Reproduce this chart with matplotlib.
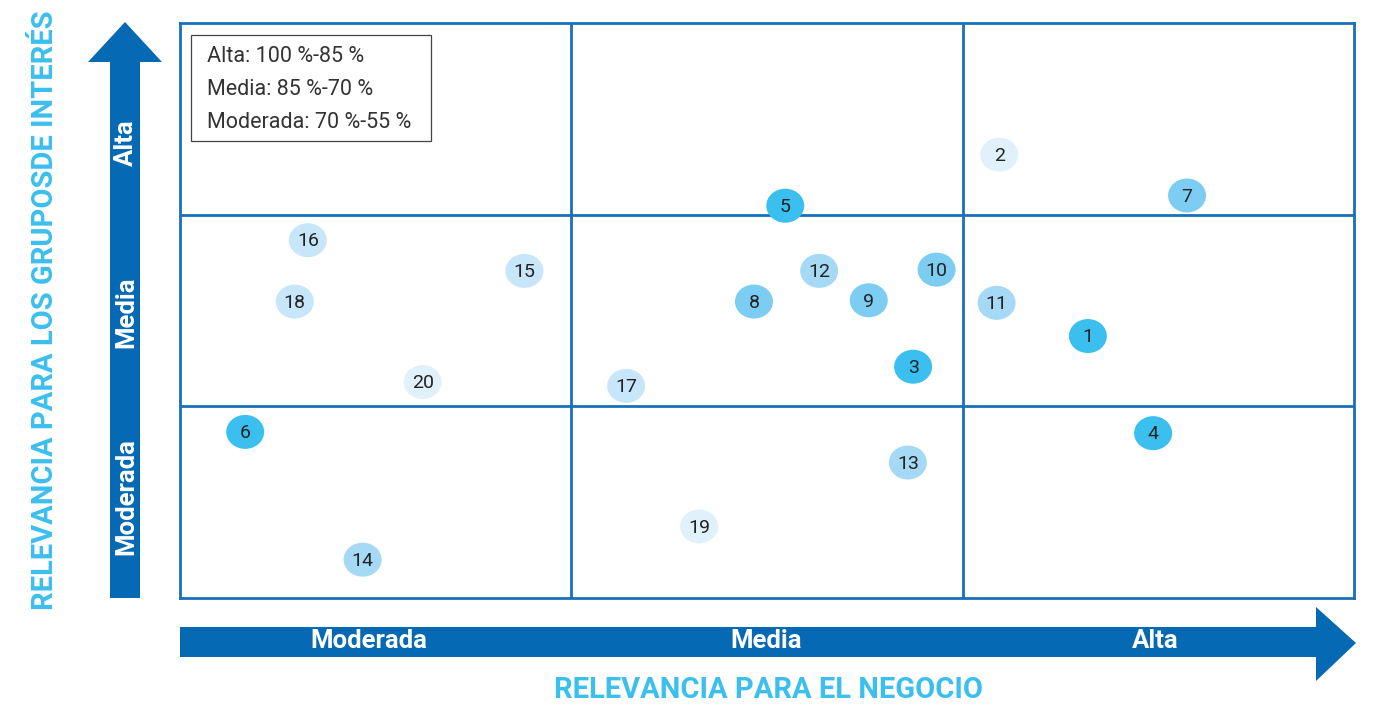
import matplotlib
matplotlib.use("Agg")
import matplotlib.pyplot as plt
from matplotlib.patches import Ellipse, Polygon, Rectangle

# --- data (percent relevance) ---
labels = [str(i) for i in range(1, 21)]
negocio = [89.8, 86.4, 83.1, 92.3, 78.2, 57.5, 93.6, 77.0, 81.4, 84.0,
           86.3, 79.5, 82.9, 62.0, 68.2, 59.9, 72.1, 59.4, 74.9, 64.3]
grupos = [75.5, 89.7, 73.1, 67.9, 85.7, 68.0, 86.5, 78.2, 78.3, 80.7,
          78.1, 80.6, 65.6, 58.0, 80.6, 83.0, 71.6, 78.2, 60.6, 71.9]
nivel = [1, 5, 1, 1, 1, 1, 2, 2, 2, 2,
         3, 3, 3, 3, 4, 4, 4, 4, 5, 5]
tramos = [55, 70, 85, 100]
tramo_labels = ["Moderada", "Media", "Alta"]
rangos = ["Alta: 100 %-85 %", "Media: 85 %-70 %", "Moderada: 70 %-55 %"]

shade = {1: "#3bbfef", 2: "#7dcdf3", 3: "#a5d9f6", 4: "#c8e6f9", 5: "#e1f1fc"}
BLUE = "#0569b3"
CYAN = "#3bbfef"
W, H = 1373, 706

plt.rcParams["font.family"] = ["Roboto", "DejaVu Sans"]

fig = plt.figure(figsize=(W / 100, H / 100), dpi=100)
ax = fig.add_axes([180 / W, 1 - 598 / H, 1174 / W, 575 / H])
ax.set_xlim(tramos[0], tramos[-1])
ax.set_ylim(tramos[0], tramos[-1])
ax.set_xticks([])
ax.set_yticks([])
for s in ax.spines.values():
    s.set_color("#1a70b8")
    s.set_linewidth(2)
for t in tramos[1:-1]:
    ax.axvline(t, color="#1a70b8", lw=2)
    ax.axhline(t, color="#1a70b8", lw=2)

# bubbles
ew = 38 / 1174 * 45
eh = 34 / 575 * 45
for lab, x, y, n in zip(labels, negocio, grupos, nivel):
    ax.add_patch(Ellipse((x, y), ew, eh, facecolor=shade[n], edgecolor="none", zorder=3))
    ax.text(x, y - 0.1, lab, ha="center", va="center", fontsize=14, color="#222222", zorder=4)

# legend box (pixel box 191,35 - 431,141)
ax.add_patch(Rectangle((11 / 1174, (598 - 141) / 575), 240 / 1174, 106 / 575,
                       transform=ax.transAxes, facecolor="white", edgecolor="#444444",
                       lw=0.9, zorder=5))
for i, r in enumerate(rangos):
    ax.text(27 / 1174, (598 - (57 + 32.5 * i)) / 575, r, transform=ax.transAxes,
            ha="left", va="center", fontsize=15.5, color="#333333", zorder=6)


def fpoly(pts, **kw):
    fig.add_artist(Polygon([(x / W, 1 - y / H) for x, y in pts],
                           closed=True, transform=fig.transFigure, **kw))


# vertical arrow
fpoly([(110, 598), (140, 598), (140, 62), (162, 62), (125, 22), (88, 62), (110, 62)],
      facecolor=BLUE, edgecolor="none")
# horizontal arrow
fpoly([(180, 627), (1316, 627), (1316, 607), (1356, 643), (1316, 681), (1316, 657), (180, 657)],
      facecolor=BLUE, edgecolor="none")

for lab, py in zip(tramo_labels, [497, 312, 143]):
    fig.text(126 / W, 1 - py / H, lab, rotation=90, ha="center", va="center",
             color="white", fontsize=18.5, fontweight="bold")
for lab, px in zip(tramo_labels, [369, 766, 1155]):
    fig.text(px / W, 1 - 641 / H, lab, ha="center", va="center",
             color="white", fontsize=18.5, fontweight="bold")

fig.text(45 / W, 1 - 310 / H, "RELEVANCIA PARA LOS GRUPOSDE INTERÉS", rotation=90,
         ha="center", va="center", color=CYAN, fontsize=21, fontweight="bold")
fig.text(768 / W, 1 - 690 / H, "RELEVANCIA PARA EL NEGOCIO",
         ha="center", va="center", color=CYAN, fontsize=21, fontweight="bold")

fig.savefig("out.png", dpi=100)
